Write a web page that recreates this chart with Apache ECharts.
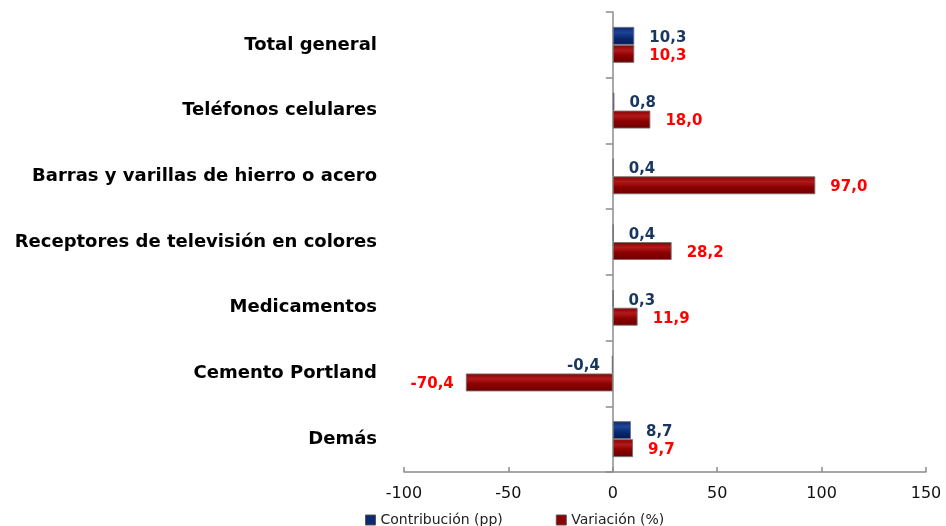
<!DOCTYPE html>
<html>
<head>
<meta charset="utf-8">
<script src="https://cdn.jsdelivr.net/npm/echarts@6/dist/echarts.min.js"></script>
<style>
  html, body { margin: 0; padding: 0; background: #fff; }
  #chart { width: 946px; height: 526px; }
</style>
</head>
<body>
<div id="chart"></div>
<script>
// datos (de arriba hacia abajo)
var categories = [
  "Total general",
  "Teléfonos celulares",
  "Barras y varillas de hierro o acero",
  "Receptores de televisión en colores",
  "Medicamentos",
  "Cemento Portland",
  "Demás"
];
var contribucion = [10.3, 0.8, 0.4, 0.4, 0.3, -0.4, 8.7];
var variacion = [10.3, 18.0, 97.0, 28.2, 11.9, -70.4, 9.7];
var xTicks = [-100, -50, 0, 50, 100, 150];

var FONT = "DejaVu Sans";

function fmt(v) {
  return v.toFixed(1).replace(".", ",");
}

// negative bars get their label on the left
function toItems(arr) {
  return arr.map(function (v) {
    return {
      value: v,
      label: {
        position: v < 0 ? "left" : "right",
        distance: v < 0 ? 12 : 15
      }
    };
  });
}

function grad(stops) {
  return new echarts.graphic.LinearGradient(0, 0, 0, 1, stops.map(function (s) {
    return { offset: s[0], color: s[1] };
  }));
}

var chart = echarts.init(document.getElementById("chart"));

var option = {
  animation: false,
  backgroundColor: "#fff",
  grid: { left: 404, right: 20, top: 12, bottom: 54, containLabel: false, outerBoundsMode: "none" },
  legend: {
    left: 360,
    top: 508,
    itemWidth: 10,
    itemHeight: 10,
    itemGap: 53,
    icon: "rect",
    textStyle: { fontFamily: FONT, fontSize: 14, color: "#222" },
    data: [
      { name: "Contribución (pp)", itemStyle: { color: "#0b2a70", borderColor: "#555", borderWidth: 1 } },
      { name: "Variación (%)", itemStyle: { color: "#8b0000", borderColor: "#555", borderWidth: 1 } }
    ]
  },
  xAxis: {
    type: "value",
    min: xTicks[0],
    max: xTicks[xTicks.length - 1],
    interval: 50,
    splitLine: { show: false },
    axisLine: { show: true, lineStyle: { color: "#8c8c8c", width: 1.5 } },
    axisTick: { show: true, inside: true, length: 5, lineStyle: { color: "#8c8c8c", width: 1.5 } },
    axisLabel: { fontFamily: FONT, fontSize: 16, color: "#111", margin: 14 }
  },
  yAxis: {
    type: "category",
    inverse: true,
    data: categories,
    axisLine: { show: true, onZero: true, lineStyle: { color: "#8c8c8c", width: 1.5 } },
    axisTick: { show: true, length: 7, lineStyle: { color: "#8c8c8c", width: 1.5 } },
    axisLabel: {
      fontFamily: FONT,
      fontSize: 18,
      fontWeight: "bold",
      color: "#000",
      margin: 27
    }
  },
  series: [
    {
      name: "Contribución (pp)",
      type: "bar",
      barWidth: 18,
      barGap: "0%",
      data: toItems(contribucion),
      itemStyle: {
        color: grad([[0, "#0a2668"], [0.3, "#1d4598"], [0.6, "#0b2a72"], [1, "#031655"]]),
        borderColor: "rgba(110,110,130,0.9)",
        borderWidth: 1
      },
      label: {
        show: true,
        fontFamily: FONT,
        fontSize: 15,
        fontWeight: "bold",
        color: "#17375e",
        offset: [0, 2],
        formatter: function (p) { return fmt(p.value); }
      }
    },
    {
      name: "Variación (%)",
      type: "bar",
      barWidth: 18,
      barGap: "0%",
      data: toItems(variacion),
      itemStyle: {
        color: grad([[0, "#860000"], [0.3, "#b01a1a"], [0.6, "#8c0000"], [1, "#6a0000"]]),
        borderColor: "rgba(120,110,110,0.9)",
        borderWidth: 1
      },
      label: {
        show: true,
        fontFamily: FONT,
        fontSize: 15,
        fontWeight: "bold",
        color: "#ff0000",
        offset: [0, 2],
        formatter: function (p) { return fmt(p.value); }
      }
    }
  ]
};

chart.setOption(option);
</script>
</body>
</html>
